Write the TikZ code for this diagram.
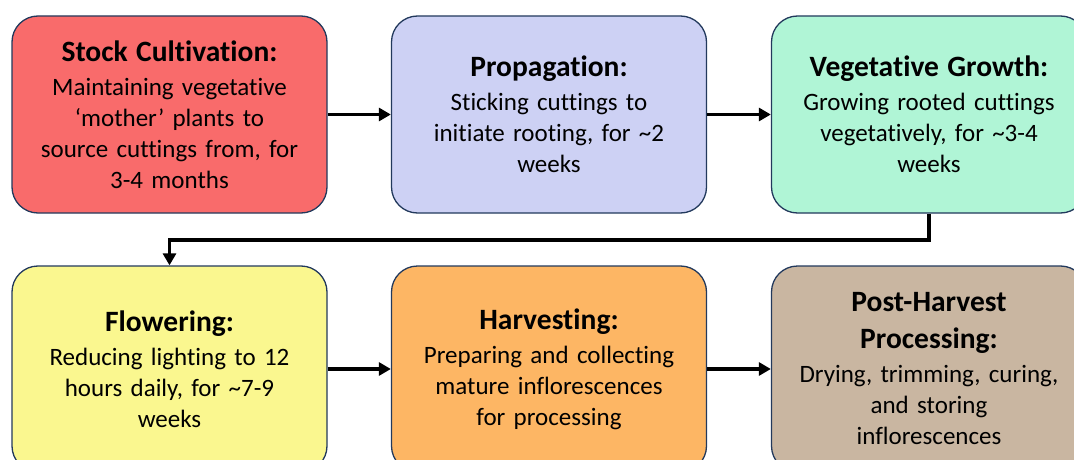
\documentclass[tikz,border=0pt]{standalone}
\usepackage{fontspec}
\setmainfont{Carlito}[Ligatures={NoCommon}]
\usetikzlibrary{arrows.meta}
\definecolor{stockred}{HTML}{F96B6B}
\definecolor{propblue}{HTML}{CDD1F4}
\definecolor{vegmint}{HTML}{B0F5D6}
\definecolor{flowyellow}{HTML}{FAF78F}
\definecolor{harvorange}{HTML}{FDB664}
\definecolor{posttan}{HTML}{C9B6A1}
\definecolor{edgenavy}{HTML}{22395C}
\begin{document}
\begin{tikzpicture}[x=1pt,y=1pt,
stage/.style={draw=edgenavy, line width=1.3pt, rounded corners=26pt,
 minimum width=315pt, text width=305pt, align=center, inner sep=0pt,
 font=\fontsize{25}{31}\selectfont},
stagetall/.style={stage, minimum height=197pt},
stagelow/.style={stage, minimum height=206pt},
flow/.style={-{Triangle[length=12pt,width=13pt]}, line width=3.8pt}
]
\clip (0,0) rectangle (1074,459);
\newcommand{\stagetitle}[1]{{\fontsize{29.5}{31}\selectfont\bfseries #1}\\[3pt]}

\path
 (169.5,344.5) node[stagetall, fill=stockred] (stock)
  {\stagetitle{Stock Cultivation:}Maintaining vegetative\\ ‘mother’ plants to\\ source cuttings from, for\\ 3-4 months}
 (549,344.5) node[stagetall, fill=propblue] (prop)
  {\stagetitle{Propagation:}Sticking cuttings to\\ initiate rooting, for \textasciitilde2\\ weeks}
 (929,344.5) node[stagetall, fill=vegmint] (veg)
  {\stagetitle{Vegetative Growth:}Growing rooted cuttings\\ vegetatively, for \textasciitilde3-4\\ weeks};

\path
 (169.5,90) node[stagelow, fill=flowyellow] (flower)
  {\stagetitle{Flowering:}Reducing lighting to 12\\ hours daily, for \textasciitilde7-9\\ weeks}
 (549,90) node[stagelow, fill=harvorange] (harvest)
  {\stagetitle{Harvesting:}Preparing and collecting\\ mature inflorescences\\ for processing}
 (929,90) node[stagelow, fill=posttan] (post)
  {\stagetitle{Post-Harvest\\[6pt] Processing:}Drying, trimming, curing,\\ and storing\\ inflorescences};

\draw[flow] (stock) -- (prop);
\draw[flow] (prop) -- (veg);
\draw[flow] (veg.south) -- ++(0,-26) -| (flower.north);
\draw[flow] (flower) -- (harvest);
\draw[flow] (harvest) -- (post);

\end{tikzpicture}
\end{document}
